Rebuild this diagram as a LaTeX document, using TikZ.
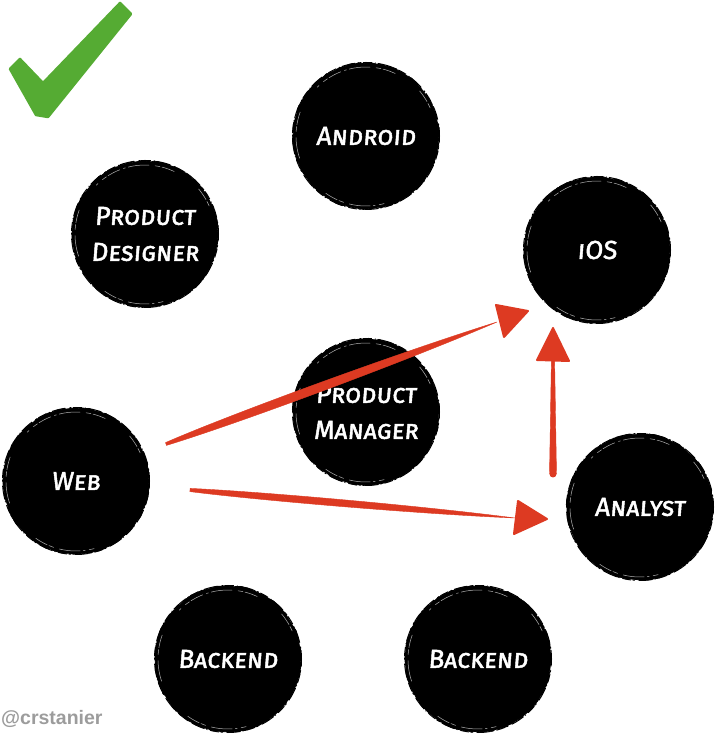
\documentclass[tikz,border=0pt]{standalone}
\usepackage{fontspec}
\setmainfont{Liberation Sans}
\newfontfamily\handfont[Letters=SmallCaps,FakeSlant=0.08,FakeBold=1.8]{Fira Sans}
\usetikzlibrary{calc,decorations.pathmorphing}
\definecolor{arrowred}{HTML}{DD3A22}
\definecolor{checkgreen}{HTML}{55AB33}
\definecolor{markgray}{HTML}{9C9C9C}
\tikzset{
  x=1pt,y=1pt,
  team/.style={circle,fill=black,draw=black,line width=0.8pt,minimum size=146pt,inner sep=0pt,
    text=white,align=center,
    font=\handfont\fontsize{26}{36}\selectfont,
    decorate,decoration={random steps,segment length=3.5pt,amplitude=0.6pt}},
  streak/.style={white!70!black,line width=0.5pt,line cap=round,dash pattern=on 13pt off 2pt on 5pt off 6pt on 21pt off 3pt on 2pt off 4pt},
  rough/.style={black,line width=1pt,dash pattern=on 9pt off 1.5pt on 2pt off 4pt on 14pt off 2pt on 1pt off 3pt},
  shaft/.style={fill=arrowred,draw=arrowred,line width=0.4pt,line join=round},
  head/.style={fill=arrowred,draw=arrowred,line width=2pt,line join=round},
  tick/.style={fill=checkgreen,draw=checkgreen,line width=2.5pt,line join=round}
}
\pgfmathsetseed{7}
\begin{document}
\begin{tikzpicture}
\useasboundingbox (0,0) rectangle (718,736);
% tick
\coordinate (c1) at (120,733);
\coordinate (c2) at (131,722);
\coordinate (c3) at (48,619);
\coordinate (c4) at (36,621);
\coordinate (c5) at (10,667);
\coordinate (c6) at (20,677);
\coordinate (c7) at (43,653);
\filldraw[tick] (c1) -- (c2) -- (c3) -- (c4) -- (c5) -- (c6) -- (c7) -- cycle;
% teams
\node[team] (android) at (366,600) {Android};
\node[team] (designer) at (145,502) {Product\\Designer};
\node[team] (ios) at (597,486) {iOS};
\node[team] (manager) at (366,324) {Product\\Manager};
\node[team] (web) at (76,255) {Web};
\node[team] (analyst) at (640,229) {Analyst};
\node[team] (backenda) at (228,77) {Backend};
\node[team] (backendb) at (478,77) {Backend};
% brush marks on the discs
\foreach \n in {android,designer,ios,manager,web,analyst,backenda,backendb}{
  \draw[rough] (\n.center) circle[radius=73.5];
  \draw[streak] ($(\n.center)+(65:69)$) arc[start angle=65,end angle=135,radius=69];
  \draw[streak] ($(\n.center)+(160:70)$) arc[start angle=160,end angle=200,radius=70];
  \draw[streak] ($(\n.center)+(235:70)$) arc[start angle=235,end angle=285,radius=70];
  \draw[streak] ($(\n.center)+(40:70)$) arc[start angle=40,end angle=20,radius=70];
}
% connector ends
\coordinate (a1s) at (166,292);
\coordinate (a1c) at (231,316);
\coordinate (a1d) at (397,377);
\coordinate (a1e) at (497,414);
\coordinate (a1t) at (528,425);
\coordinate (a1u) at (496,431);
\coordinate (a1v) at (504,399);
\coordinate (a2s) at (190,246);
\coordinate (a2c) at (255,240.4);
\coordinate (a2d) at (417,226.4);
\coordinate (a2e) at (515,218);
\coordinate (a2t) at (547,217);
\coordinate (a2u) at (518,235);
\coordinate (a2v) at (514,202);
\coordinate (a3s) at (553,262);
\coordinate (a3e) at (553,376);
\coordinate (a3t) at (553,408);
\coordinate (a3u) at (537,376);
\coordinate (a3v) at (569,375);
% Web -> iOS
\filldraw[shaft] ($(a1s)+(-0.5,1.4)$) .. controls ($(a1c)+(-1.9,5.2)$) and ($(a1d)+(-1.9,5.2)$) .. (a1e)
  .. controls ($(a1d)+(1.9,-5.2)$) and ($(a1c)+(1.9,-5.2)$) .. ($(a1s)+(0.5,-1.4)$) -- cycle;
\filldraw[head] (a1t) -- (a1u) -- (a1v) -- cycle;
% Web -> Analyst
\filldraw[shaft] ($(a2s)+(0.1,1.6)$) .. controls ($(a2c)+(0.4,4.3)$) and ($(a2d)+(0.4,4.3)$) .. (a2e)
  .. controls ($(a2d)+(-0.4,-4.3)$) and ($(a2c)+(-0.4,-4.3)$) .. ($(a2s)+(-0.1,-1.6)$) -- cycle;
\filldraw[head] (a2t) -- (a2u) -- (a2v) -- cycle;
% Analyst -> iOS
\path[shaft] ($(a3s)+(-3.5,0)$) -- ($(a3e)+(-1.6,0)$) -- ($(a3e)+(1.6,0)$) -- ($(a3s)+(3.5,0)$) -- cycle;
\fill[arrowred] (a3s) circle[radius=3.5];
\filldraw[head] (a3t) -- (a3u) -- (a3v) -- cycle;
% credit
\node[anchor=base west,inner sep=0pt,text=markgray,font=\bfseries\fontsize{19.5}{19.5}\selectfont] (credit) at (1,11) {@crstanier};
\end{tikzpicture}
\end{document}
